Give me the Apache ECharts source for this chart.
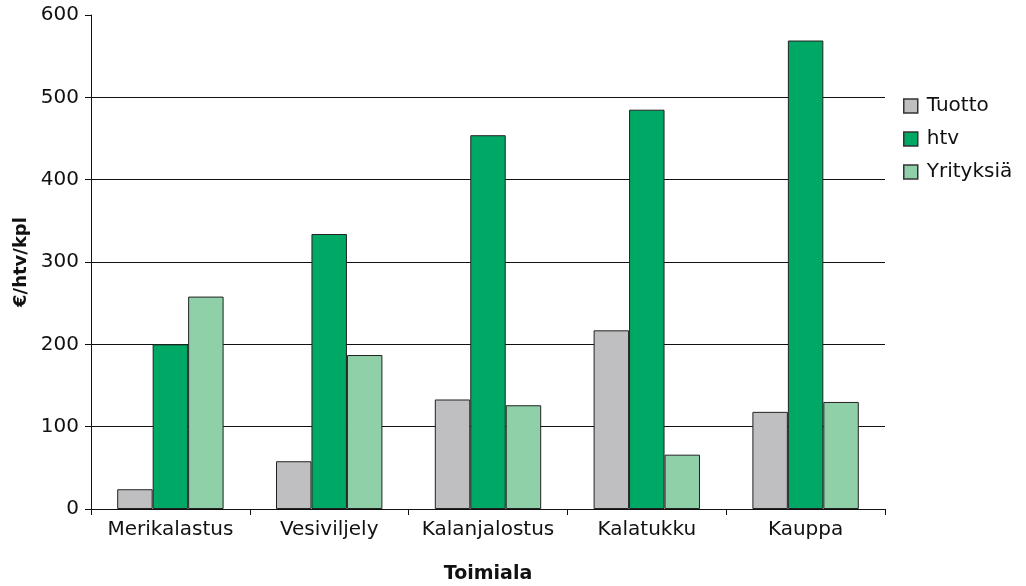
<!DOCTYPE html>
<html><head><meta charset="utf-8">
<script src="https://cdn.jsdelivr.net/npm/echarts@6/dist/echarts.min.js"></script>
<style>html,body{margin:0;padding:0;background:#fff}#c{width:1026px;height:586px}</style>
</head><body><div id="c"></div>
<script>
const categories = ['Merikalastus','Vesiviljely','Kalanjalostus','Kalatukku','Kauppa'];
const tuotto = [24, 58, 133, 217, 118];
const htv = [200, 334, 454, 485, 569];
const yrityksia = [258, 187, 126, 66, 130];
const seriesNames = ['Tuotto','htv','Yrityksiä'];
const yTicks = [0,100,200,300,400,500,600];

const font = 'DejaVu Sans';
const chart = echarts.init(document.getElementById('c'));
const mk = (name, data, color) => ({
  name, type:'bar', data, barGap:'0%', barCategoryGap:'33%',
  itemStyle:{color, borderColor:'#222', borderWidth:1},
  emphasis:{disabled:true}
});
chart.setOption({
  animation:false,
  textStyle:{fontFamily:font},
  grid:{left:91, right:141, top:15, bottom:77, containLabel:false, outerBoundsMode:'none'},
  legend:{
    orient:'vertical', left:898, top:91, itemGap:13,
    itemWidth:14, itemHeight:14, icon:'rect',
    textStyle:{fontFamily:font, fontSize:20, color:'#111', padding:[0,0,0,4]},
    data:seriesNames.map(n=>({name:n, itemStyle:{borderColor:'#333', borderWidth:1.5}}))
  },
  xAxis:{
    type:'category', data:categories, name:'Toimiala', nameLocation:'middle', nameGap:56,
    nameTextStyle:{fontFamily:font, fontSize:19, fontWeight:'bold', color:'#111'},
    axisLine:{lineStyle:{color:'#111', width:1}},
    axisTick:{show:true, length:6, interval:0, lineStyle:{color:'#111'}},
    axisLabel:{fontFamily:font, fontSize:20, color:'#111', margin:11, interval:0}
  },
  yAxis:{
    type:'value', min:0, max:600, interval:100,
    name:'€/htv/kpl', nameLocation:'middle', nameGap:51, nameRotate:90,
    nameTextStyle:{fontFamily:font, fontSize:18, fontWeight:'bold', color:'#111'},
    axisLine:{show:true, lineStyle:{color:'#111', width:1}},
    axisTick:{show:true, length:6, lineStyle:{color:'#111'}},
    axisLabel:{fontFamily:font, fontSize:20, color:'#111', margin:12,
      formatter:v=>yTicks.includes(v)?String(v):''},
    splitLine:{show:true, lineStyle:{color:['#111','#111','#111','#111','#111','#111','rgba(0,0,0,0)'], width:1}}
  },
  series:[
    mk(seriesNames[0], tuotto, '#bfbfc1'),
    mk(seriesNames[1], htv, '#00a865'),
    mk(seriesNames[2], yrityksia, '#8fd0a8')
  ]
});
</script></body></html>
